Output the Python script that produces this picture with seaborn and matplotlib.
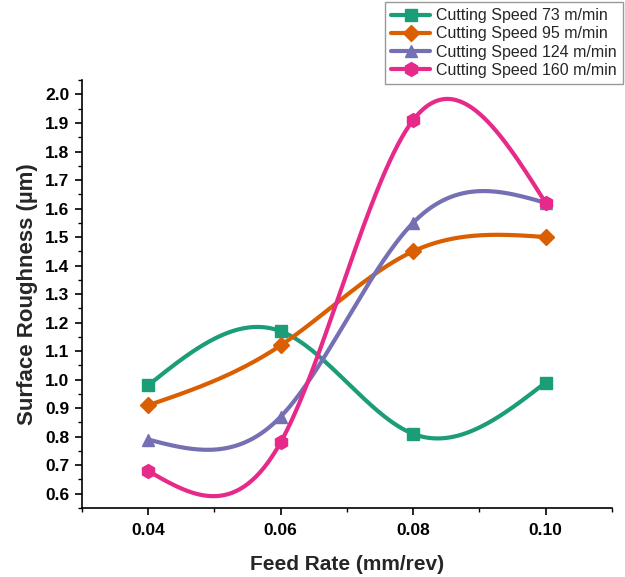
import numpy as np
import pandas as pd
import matplotlib
matplotlib.use("Agg")
import matplotlib.pyplot as plt
from matplotlib.lines import Line2D
from matplotlib.ticker import MultipleLocator, FormatStrFormatter
import seaborn as sns

# ---- data ----
feed_rate = [0.04, 0.06, 0.08, 0.10]
speed_73 = [0.98, 1.17, 0.81, 0.99]
speed_95 = [0.91, 1.12, 1.45, 1.50]
speed_124 = [0.79, 0.87, 1.55, 1.62]
speed_160 = [0.68, 0.78, 1.91, 1.62]
series_labels = ["Cutting Speed 73 m/min", "Cutting Speed 95 m/min",
                 "Cutting Speed 124 m/min", "Cutting Speed 160 m/min"]
x_ticks = [0.04, 0.06, 0.08, 0.10]

sns.set_theme(style="ticks")
plt.rcParams['font.family'] = ['Liberation Sans', 'DejaVu Sans']

colors = ["#1b9e77", "#d95f02", "#7570b3", "#e7298a"]
markers = ["s", "D", "^", "h"]
msizes = [9, 8, 9, 10]


def natural_spline(x, y, n=200):
    x = np.asarray(x, float)
    y = np.asarray(y, float)
    k = len(x)
    h = np.diff(x)
    A = np.zeros((k, k))
    b = np.zeros(k)
    A[0, 0] = 1
    A[-1, -1] = 1
    for i in range(1, k - 1):
        A[i, i - 1] = h[i - 1]
        A[i, i] = 2 * (h[i - 1] + h[i])
        A[i, i + 1] = h[i]
        b[i] = 6 * ((y[i + 1] - y[i]) / h[i] - (y[i] - y[i - 1]) / h[i - 1])
    M = np.linalg.solve(A, b)
    xs = np.linspace(x[0], x[-1], n)
    ys = np.empty_like(xs)
    for j, xv in enumerate(xs):
        i = min(np.searchsorted(x, xv, side="right") - 1, k - 2)
        t0 = x[i + 1] - xv
        t1 = xv - x[i]
        hi = h[i]
        ys[j] = (M[i] * t0 ** 3 / (6 * hi) + M[i + 1] * t1 ** 3 / (6 * hi)
                 + (y[i] / hi - M[i] * hi / 6) * t0
                 + (y[i + 1] / hi - M[i + 1] * hi / 6) * t1)
    return xs, ys


fig = plt.figure(figsize=(6.25, 5.77), dpi=100)
ax = fig.add_axes([0.131, 0.1196, 0.848, 0.7414])

all_series = [speed_73, speed_95, speed_124, speed_160]
handles = []
for vals, lab, c, m, ms in zip(all_series, series_labels, colors, markers, msizes):
    xs, ys = natural_spline(feed_rate, vals)
    curve = pd.DataFrame({"x": xs, "y": ys})
    sns.lineplot(data=curve, x="x", y="y", ax=ax, color=c, lw=3, sort=False, zorder=2)
    pts = pd.DataFrame({"x": feed_rate, "y": vals})
    ax.plot(pts["x"], pts["y"], ls="none", marker=m, ms=ms, color=c,
            mec=c, zorder=3)
    handles.append(Line2D([0], [0], color=c, lw=3, marker=m, ms=ms, mec=c))

ax.set_xlim(0.03, 0.11)
ax.set_ylim(0.55, 2.05)
ax.set_xticks(x_ticks)
ax.xaxis.set_major_formatter(FormatStrFormatter("%.2f"))
ax.xaxis.set_minor_locator(MultipleLocator(0.01))
ax.yaxis.set_minor_locator(MultipleLocator(0.05))
ax.set_yticks(np.round(np.arange(0.6, 2.01, 0.1), 1))
ax.yaxis.set_major_formatter(FormatStrFormatter("%.1f"))

for s in ["top", "right"]:
    ax.spines[s].set_visible(False)
for s in ["left", "bottom"]:
    ax.spines[s].set_color("black")
    ax.spines[s].set_linewidth(1.2)

ax.tick_params(axis="both", which="major", direction="out", length=5, width=1.2,
               color="black", labelsize=12.5, labelcolor="black", pad=4)
ax.tick_params(axis="x", which="major", pad=6)
ax.tick_params(axis="both", which="minor", direction="out", length=3, width=1.0,
               color="black")
for lbl in ax.get_xticklabels() + ax.get_yticklabels():
    lbl.set_fontweight("bold")

ax.set_xlabel("Feed Rate (mm/rev)", fontsize=15, fontweight="bold", labelpad=12)
ax.set_ylabel("Surface Roughness (µm)", fontsize=16, fontweight="bold", labelpad=5)
ax.grid(False)

leg = ax.legend(handles, series_labels, loc="upper right",
                bbox_to_anchor=(0.997, 0.997), bbox_transform=fig.transFigure,
                fontsize=11.5, frameon=True, fancybox=False, handlelength=2.4,
                labelspacing=0.2, borderpad=0.4, handletextpad=0.4,
                borderaxespad=0)
leg.get_frame().set_edgecolor("#808080")
leg.get_frame().set_linewidth(1.0)

fig.savefig("out.png", dpi=100)
